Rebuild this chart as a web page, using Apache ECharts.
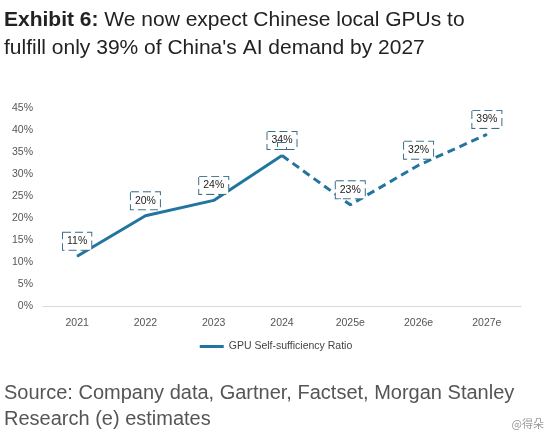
<!DOCTYPE html><html><head><meta charset="utf-8"><script src="https://cdn.jsdelivr.net/npm/echarts@6/dist/echarts.min.js"></script></head><body style="margin:0;background:#fff"><div id="c" style="width:552px;height:437px"></div><script>
const categories=['2021','2022','2023','2024','2025e','2026e','2027e'];
const actual=[11.3,20.5,24,34.2,null,null,null];
const forecast=[null,null,null,34.2,23,32,39];
const labels=['11%','20%','24%','34%','23%','32%','39%'];
const col='#22759f';
const lab={show:true,position:'top',distance:6,color:'#222',fontSize:10.5,fontFamily:'Liberation Sans',borderType:'dashed',borderColor:'#3a6f8a',borderWidth:1,padding:[3,4],backgroundColor:'#fff',formatter:p=>labels[p.dataIndex]};
const ch=echarts.init(document.getElementById('c'));
ch.setOption({animation:false,
graphic:[
{type:'text',left:4,top:6,style:{text:'{b|Exhibit 6:} We now expect Chinese local GPUs to\nfulfill only 39% of China\'s AI demand by 2027',fontSize:21,lineHeight:28,fill:'#222',fontFamily:'Liberation Sans',rich:{b:{fontWeight:'bold',fontSize:21,fill:'#222',fontFamily:'Liberation Sans'}}}},
{type:'text',left:4,top:380,style:{text:'Source: Company data, Gartner, Factset, Morgan Stanley\nResearch (e) estimates',fontSize:20,lineHeight:26,fill:'#555',fontFamily:'Liberation Sans'}},
{type:'text',right:8,top:418,style:{text:'@得朵',fontSize:11,fill:'#999',fontFamily:'Noto Sans CJK SC'}}
],
grid:{left:43,right:31,top:108,bottom:131},
legend:{bottom:80,left:'center',itemWidth:24,itemHeight:3,icon:'rect',textStyle:{fontSize:10.5,color:'#444'},data:['GPU Self-sufficiency Ratio']},
xAxis:{type:'category',data:categories,axisTick:{show:false},axisLine:{lineStyle:{color:'#d9d9d9'}},axisLabel:{color:'#555',fontSize:10.5,margin:12}},
yAxis:{type:'value',min:0,max:45,interval:5,splitLine:{show:false},axisLabel:{formatter:'{value}%',color:'#555',fontSize:10.5,margin:10}},
series:[
{name:'GPU Self-sufficiency Ratio',type:'line',data:actual,symbol:'circle',symbolSize:1,showSymbol:true,lineStyle:{color:col,width:3},itemStyle:{color:col},label:lab},
{name:'fc',type:'line',data:forecast,symbol:'circle',symbolSize:1,showSymbol:true,lineStyle:{color:col,width:3,type:[8,5]},itemStyle:{color:col},label:Object.assign({},lab,{formatter:p=>p.dataIndex===3?'':labels[p.dataIndex]})}
]});
ch.setOption({series:[{},{label:{show:true}}]});
</script></body></html>
